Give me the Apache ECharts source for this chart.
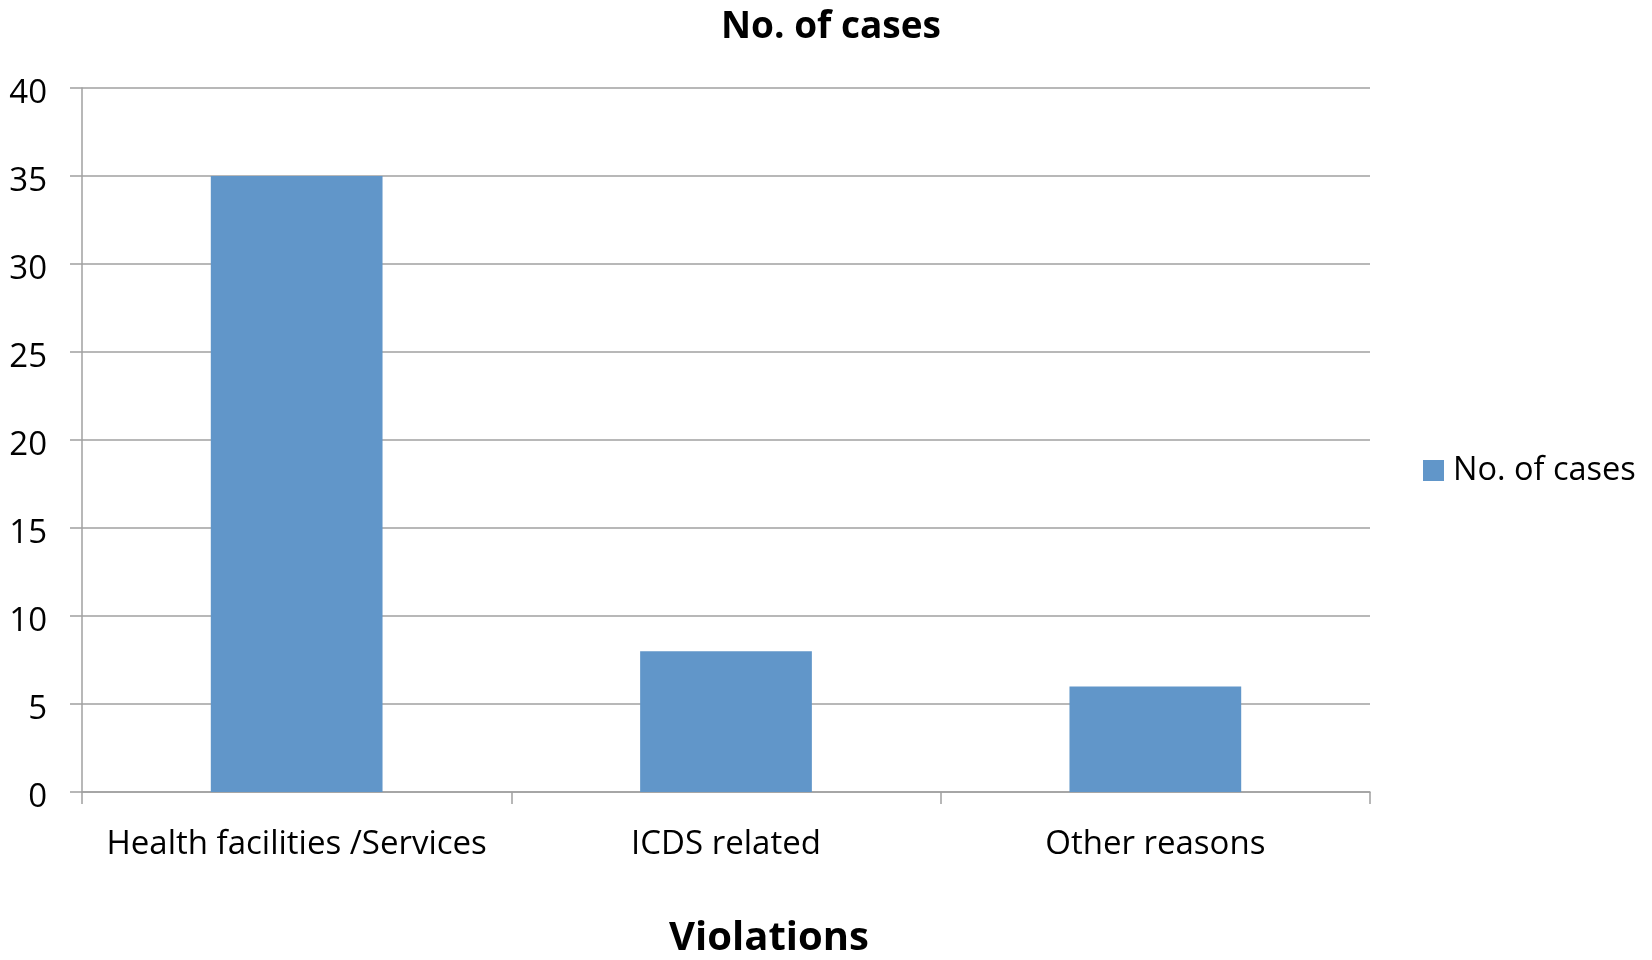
<!DOCTYPE html>
<html>
<head>
<meta charset="utf-8">
<script src="https://cdn.jsdelivr.net/npm/echarts@6/dist/echarts.min.js"></script>
<style>
html,body{margin:0;padding:0;background:#fff;}
#chart{width:1652px;height:960px;}
</style>
</head>
<body>
<div id="chart"></div>
<script>
const categories = ['Health facilities /Services', 'ICDS related', 'Other reasons'];
const seriesName = 'No. of cases';
const values = [35, 8, 6];
const yTicks = { min: 0, max: 40, interval: 5 };
const chartTitle = 'No. of cases';
const xAxisTitle = 'Violations';

const FONT = 'Open Sans';
const chart = echarts.init(document.getElementById('chart'), null, { renderer: 'canvas' });
chart.setOption({
  backgroundColor: '#ffffff',
  animation: false,
  title: [
    { text: chartTitle, left: 826, top: 4, textAlign: 'center',
      textStyle: { fontFamily: FONT, fontWeight: 'bold', fontSize: 37, color: '#000' } },
    { text: xAxisTitle, left: 764, top: 914, textAlign: 'center',
      textStyle: { fontFamily: FONT, fontWeight: 'bold', fontSize: 40, color: '#000' } }
  ],
  legend: {
    data: [seriesName],
    left: 1418, top: 449,
    orient: 'vertical',
    itemWidth: 21, itemHeight: 21, itemGap: 10,
    icon: 'rect',
    textStyle: { fontFamily: FONT, fontSize: 32.5, color: '#000', padding: [0,0,0,4] }
  },
  grid: { left: 82, right: 282, top: 88, bottom: 168, containLabel: false },
  xAxis: {
    type: 'category',
    data: categories,
    axisLine: { show: true, lineStyle: { color: '#a0a0a0', width: 1.5 } },
    axisTick: { show: true, interval: 0, alignWithLabel: false, length: 12, lineStyle: { color: '#a0a0a0', width: 1.5 } },
    axisLabel: { interval: 0, hideOverlap: false, margin: 36, fontFamily: FONT, fontSize: 33, color: '#000' },
    splitLine: { show: false }
  },
  yAxis: {
    type: 'value',
    min: yTicks.min, max: yTicks.max, interval: yTicks.interval,
    axisLine: { show: true, lineStyle: { color: '#a0a0a0', width: 1.5 } },
    axisTick: { show: true, length: 12, lineStyle: { color: '#a0a0a0', width: 1.5 } },
    axisLabel: { margin: 35, fontFamily: FONT, fontSize: 33, color: '#000', verticalAlign: 'top', lineHeight: 12 },
    splitLine: { show: true, lineStyle: { color: '#a0a0a0', width: 1.5 } }
  },
  series: [{
    name: seriesName,
    type: 'bar',
    data: values,
    barWidth: '40%',
    itemStyle: { color: '#6196c9' }
  }]
});
</script>
</body>
</html>
